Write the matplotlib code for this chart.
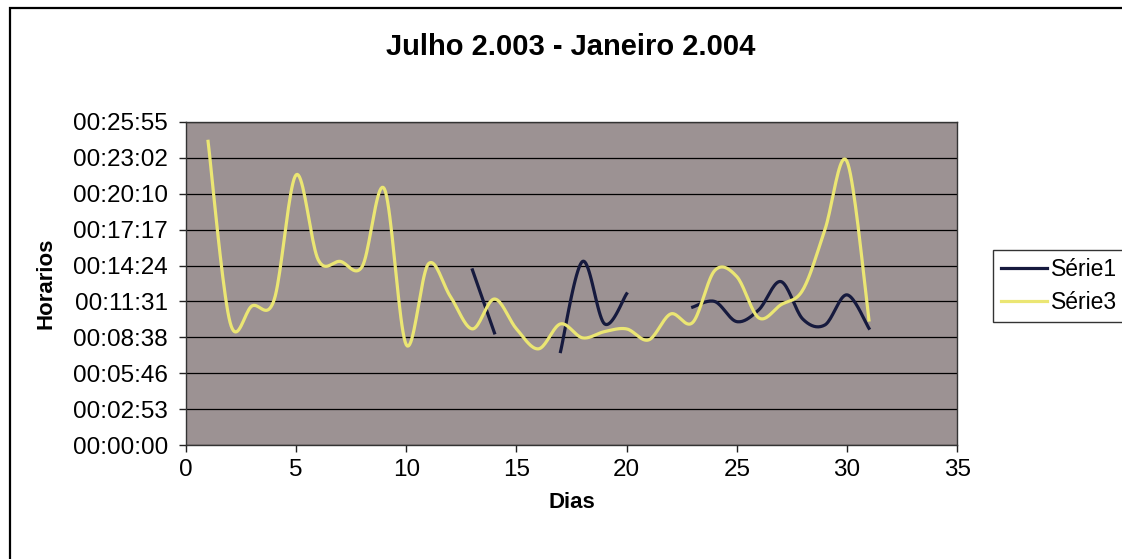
import numpy as np
import pandas as pd
import matplotlib
matplotlib.use("Agg")
import matplotlib.pyplot as plt
from matplotlib.ticker import FuncFormatter, MultipleLocator
from matplotlib.patches import Rectangle

plt.rcParams['font.family'] = ['Liberation Sans', 'DejaVu Sans']

# dias do mes e horarios medidos (Julho 2003 - Janeiro 2004)
dias = list(range(1, 32))

serie3 = ["00:24:22", "00:09:50", "00:11:10", "00:11:39", "00:21:41", "00:14:52",
          "00:14:44", "00:14:20", "00:20:34", "00:08:02", "00:14:32", "00:11:55",
          "00:09:19", "00:11:43", "00:09:19", "00:07:43", "00:09:43", "00:08:36",
          "00:09:06", "00:09:19", "00:08:26", "00:10:31", "00:09:50", "00:14:00",
          "00:13:31", "00:10:12", "00:11:15", "00:12:27", "00:17:16", "00:22:46",
          "00:10:02"]

serie1 = [None] * 12 + ["00:14:03", "00:09:00", None, None, "00:07:30", "00:14:44",
                        "00:09:43", "00:12:08", None, None, "00:11:04", "00:11:31",
                        "00:09:54", "00:10:51", "00:13:07", "00:10:06", "00:09:38",
                        "00:12:03", "00:09:22"]

x_ticks = [0, 5, 10, 15, 20, 25, 30, 35]


def to_seconds(vals):
    return pd.to_timedelta(pd.Series(vals)).dt.total_seconds().to_numpy()


def suaviza(x, y, n=20):
    # curva suavizada tipo Excel (Bezier com pontos de controle Catmull-Rom)
    x = np.asarray(x, float)
    y = np.asarray(y, float)
    if len(x) < 3:
        return x, y
    px = np.concatenate([[x[0]], x, [x[-1]]])
    py = np.concatenate([[y[0]], y, [y[-1]]])
    xs, ys = [x[0]], [y[0]]
    t = np.linspace(0, 1, n + 1)[1:]
    for i in range(1, len(px) - 2):
        p0 = np.array([px[i], py[i]])
        p3 = np.array([px[i + 1], py[i + 1]])
        c1 = p0 + (np.array([px[i + 1], py[i + 1]]) - np.array([px[i - 1], py[i - 1]])) / 6
        c2 = p3 - (np.array([px[i + 2], py[i + 2]]) - np.array([px[i], py[i]])) / 6
        b = ((1 - t) ** 3)[:, None] * p0 + (3 * (1 - t) ** 2 * t)[:, None] * c1 \
            + (3 * (1 - t) * t ** 2)[:, None] * c2 + (t ** 3)[:, None] * p3
        xs.extend(b[:, 0])
        ys.extend(b[:, 1])
    return np.array(xs), np.array(ys)


def trechos(x, y):
    # separa a serie nos dias sem medicao
    partes, atual = [], []
    for xi, yi in zip(x, y):
        if np.isnan(yi):
            if atual:
                partes.append(atual)
            atual = []
        else:
            atual.append((xi, yi))
    if atual:
        partes.append(atual)
    return partes


def fmt_hora(v, pos):
    s = int(round(v))
    return "%02d:%02d:%02d" % (s // 3600, (s % 3600) // 60, s % 60)


y1 = to_seconds(serie1)
y3 = to_seconds(serie3)

fig = plt.figure(figsize=(11.22, 5.59), dpi=100)
ax = fig.add_axes([0.1658, 0.2039, 0.6872, 0.5779])
ax.set_facecolor("#9c9293")

cor1 = "#161a3e"
cor3 = "#ebe673"

first = True
for parte in trechos(dias, y1):
    xs, ys = suaviza([p[0] for p in parte], [p[1] for p in parte])
    ax.plot(xs, ys, color=cor1, lw=2.3, label="Série1" if first else None, zorder=3)
    first = False
xs, ys = suaviza(dias, y3)
ax.plot(xs, ys, color=cor3, lw=2.3, label="Série3", zorder=3)

passo = 172.8  # 0,002 dia
ax.set_ylim(0, 9 * passo)
ax.yaxis.set_major_locator(MultipleLocator(passo))
ax.yaxis.set_major_formatter(FuncFormatter(fmt_hora))
ax.set_xlim(0, 35)
ax.set_xticks(x_ticks)
ax.grid(axis="y", color="black", lw=0.9)
ax.set_axisbelow(True)
for sp in ax.spines.values():
    sp.set_color("#333333")
    sp.set_linewidth(1.0)
ax.tick_params(labelsize=17.5, length=5, width=1, colors="#222222", labelcolor="black")
ax.tick_params(axis="y", pad=8)
ax.tick_params(axis="x", pad=5)

ax.set_xlabel("Dias", fontsize=16, fontweight="bold", labelpad=8)
ax.set_ylabel("Horarios", fontsize=16, fontweight="bold", labelpad=12)
fig.text(0.509, 1 - 47 / 559, "Julho 2.003 - Janeiro 2.004", ha="center", va="center",
         fontsize=21, fontweight="bold")

leg = ax.legend(loc="upper left", bbox_to_anchor=(993 / 1122, 1 - 250 / 559),
                bbox_transform=fig.transFigure, fontsize=16.5, frameon=True,
                fancybox=False, handlelength=2.0, handletextpad=0.2,
                borderpad=0.35, labelspacing=0.45, borderaxespad=0)
leg.get_frame().set_edgecolor("black")
leg.get_frame().set_linewidth(1.0)

# moldura do grafico
fig.patches.append(Rectangle((10 / 1122, -0.1), 1.2, 1.1 - 8 / 559,
                             transform=fig.transFigure, fill=False,
                             edgecolor="black", lw=1.6))

fig.savefig("out.png", dpi=100)
